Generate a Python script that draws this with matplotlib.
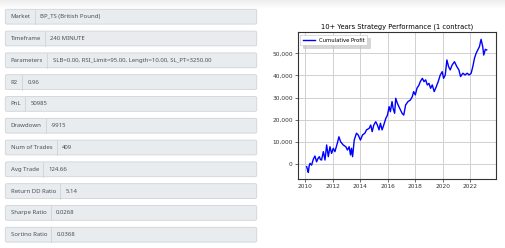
import matplotlib
matplotlib.use("Agg")
import matplotlib.pyplot as plt
from matplotlib.patches import FancyBboxPatch
import numpy as np

# strategy summary (left panel)
stat_labels = ["Market", "Timeframe", "Parameters", "R2", "PnL", "Drawdown",
               "Num of Trades", "Avg Trade", "Return DD Ratio", "Sharpe Ratio",
               "Sortino Ratio"]
stat_values = ["BP_TS (British Pound)", "240 MINUTE",
               "SLB=0.00, RSI_Limit=95.00, Length=10.00, SL_PT=3250.00",
               "0.96", "50985", "-9915", "409", "124.66", "5.14", "0.0268",
               "0.0368"]

# cumulative profit
years = [2010.12, 2010.18, 2010.24, 2010.30, 2010.36, 2010.48, 2010.60, 2010.72, 2010.84, 2010.94,
         2011.04, 2011.12, 2011.20, 2011.33, 2011.45, 2011.57, 2011.69, 2011.81,
         2011.93, 2012.05, 2012.17, 2012.34, 2012.46, 2012.58, 2012.77, 2012.96,
         2013.08, 2013.20, 2013.30, 2013.37, 2013.45, 2013.57, 2013.73, 2013.86,
         2014.02, 2014.17, 2014.34, 2014.46, 2014.65, 2014.77, 2014.87, 2014.99,
         2015.13, 2015.25, 2015.37, 2015.47, 2015.59, 2015.71, 2015.86, 2015.98,
         2016.10, 2016.19, 2016.31, 2016.39, 2016.50, 2016.58, 2016.70, 2016.87,
         2017.04, 2017.16, 2017.30, 2017.47, 2017.64, 2017.78, 2017.88, 2018.00,
         2018.12, 2018.27, 2018.36, 2018.51, 2018.63, 2018.75, 2018.87, 2018.99,
         2019.11, 2019.23, 2019.37, 2019.52, 2019.66, 2019.81, 2019.95, 2020.05,
         2020.17, 2020.29, 2020.41, 2020.53, 2020.67, 2020.84, 2021.01, 2021.16,
         2021.28, 2021.45, 2021.61, 2021.76, 2021.90, 2022.05, 2022.17, 2022.29,
         2022.41, 2022.53, 2022.65, 2022.77, 2022.89, 2022.96, 2023.08, 2023.18]
profit = [-1200, -2600, -3800, -900, 300, -500, 2100, 3600, 1000, 2500,
          3300, 2000, 1800, 5600, 1800, 8600, 3300, 7800,
          4800, 7100, 5600, 9300, 12300, 10100, 8600, 7800,
          6300, 7800, 4100, 7100, 3300, 10800, 13900, 13100,
          10800, 13100, 13900, 15400, 16100, 17600, 14600, 17600,
          19100, 17600, 15400, 18400, 15400, 17600, 20600, 22100,
          25900, 23600, 28200, 25100, 22900, 29700, 27400, 25100,
          22900, 22100, 26700, 28200, 28900, 30400, 32700, 31200,
          34200, 35700, 37200, 38700, 37200, 38000, 35700, 36400,
          34200, 35700, 32700, 34900, 37200, 40200, 41700, 38700,
          40200, 47000, 44000, 42500, 44700, 46200, 44000, 42500,
          39500, 41000, 40200, 41000, 40200, 41000, 44000, 47700,
          50000, 51500, 53000, 56300, 53000, 49200, 51800, 51500]

W, H = 506, 248
fig = plt.figure(figsize=(W / 100, H / 100), dpi=100)

# page background in pixel coordinates
bg = fig.add_axes([0, 0, 1, 1])
bg.set_xlim(0, W)
bg.set_ylim(H, 0)
bg.axis("off")
grad = np.linspace(0.93, 1.0, 50).reshape(-1, 1)
bg.imshow(grad, cmap="gray", vmin=0, vmax=1, extent=[0, W, 9, 0], aspect="auto")

font = "Noto Sans"
txt_color = "#495057"
renderer = fig.canvas.get_renderer()
box_x0, box_x1 = 5.3, 256.7
for i, (lab, val) in enumerate(zip(stat_labels, stat_values)):
    top = 9.3 + i * 21.8
    h = 14.8
    bg.add_patch(FancyBboxPatch((box_x0, top), box_x1 - box_x0, h,
                                boxstyle="round,pad=0,rounding_size=1.5",
                                fc="#e9ecef", ec="#ced4da", lw=0.6))
    cy = top + h / 2
    t = bg.text(10.7, cy, lab, fontsize=4.3, family=font, color=txt_color,
                va="center", ha="left")
    bb = t.get_window_extent(renderer)
    sep = bb.x1 + 4.3
    bg.plot([sep, sep], [top, top + h], color="#ced4da", lw=0.6)
    bg.text(sep + 5.2, cy, val, fontsize=4.3, family=font, color=txt_color,
            va="center", ha="left")

# performance chart
ax = fig.add_axes([297.7 / W, 1 - 179 / H, (495.7 - 297.7) / W, (179 - 32.3) / H])
ax.plot(years, profit, color="blue", lw=1.0, label="Cumulative Profit")
ax.set_xlim(2009.47, 2023.83)
ax.set_ylim(-6775, 59480)
ax.set_xticks(range(2010, 2023, 2))
ax.set_yticks(range(0, 50001, 10000))
ax.yaxis.set_major_formatter(matplotlib.ticker.StrMethodFormatter("{x:,.0f}"))
ax.tick_params(labelsize=4.2, length=2, width=0.5, colors="#333333", pad=1.5)
ax.grid(True, color="#d0d0d0", lw=0.7)
for s in ax.spines.values():
    s.set_color("#333333")
    s.set_linewidth(0.8)
ax.set_title("10+ Years Strategy Performance (1 contract)", fontsize=4.9, pad=3)
leg = ax.legend(loc="upper left", fontsize=3.8, fancybox=False,
                shadow={"color": "#bbbbbb", "alpha": 0.6},
                framealpha=1, edgecolor="#cccccc", handlelength=2.2,
                borderpad=0.5, borderaxespad=0.5)
leg.get_frame().set_linewidth(0.5)

fig.savefig("out.png", dpi=100)
